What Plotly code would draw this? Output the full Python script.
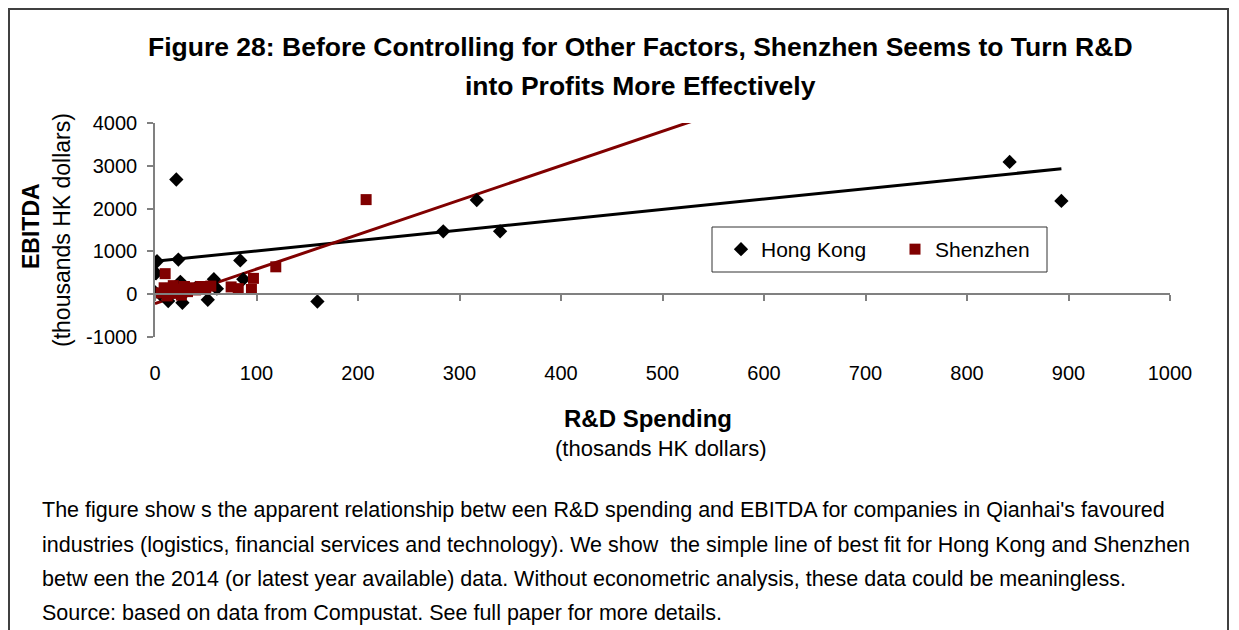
import numpy as np
import plotly.graph_objects as go

# ---------------- data ----------------
hk_x = [0, 1, 2, 5, 10, 13, 21, 23, 25, 27, 30, 40, 52, 58, 61, 84, 87, 160, 284, 317, 340, 842, 893]
hk_y = [50, 490, 770, 0, 100, -160, 2680, 810, 290, -200, 50, 150, -130, 350, 130, 790, 350, -170, 1470, 2200, 1470, 3090, 2180]

sz_x = [10, 6, 9, 12, 15, 18, 20, 23, 26, 29, 32, 36, 40, 45, 50, 55, 75, 82, 95, 97, 119, 208]
sz_y = [480, 30, 150, -40, 100, 200, 20, 120, -20, 180, 60, 150, 100, 180, 140, 190, 170, 130, 110, 370, 640, 2210]

# linear trend lines as drawn in the chart: [intercept, slope]
hk_trend = [770, 2.42]
sz_trend = [-218, 8.05]

x_ticks = [0, 100, 200, 300, 400, 500, 600, 700, 800, 900, 1000]
y_ticks = [-1000, 0, 1000, 2000, 3000, 4000]

title_lines = ["Figure 28: Before Controlling for Other Factors, Shenzhen Seems to Turn R&D",
               "into Profits More Effectively"]
note_lines = [
    "The figure show s the apparent relationship betw een R&D spending and EBITDA for companies in Qianhai's favoured",
    "industries (logistics, financial services and technology). We show  the simple line of best fit for Hong Kong and Shenzhen",
    "betw een the 2014 (or latest year available) data. Without econometric analysis, these data could be meaningless.",
    "Source: based on data from Compustat. See full paper for more details.",
]

# ---------------- layout geometry (screen pixels; page body has an 8px margin) ----------------
OFF = 8
W, H = 1239 - OFF, 630 - OFF
PL, PR, PT, PB = 155, 1170, 123, 337          # plot area on screen
ML, MT = PL - OFF, PT - OFF
MR, MB = W - (PR - OFF), H - (PB - OFF)
PW, PH = PR - PL, PB - PT


def px(x):
    return (x - PL) / PW


def py(y):
    return (PB - y) / PH


FONT = "Liberation Sans, Arial, sans-serif"
RED = "#800000"
AX = "#808080"

fig = go.Figure()

# trend lines
hx = np.array([0, max(hk_x)], dtype=float)
fig.add_trace(go.Scatter(x=hx, y=hk_trend[0] + hk_trend[1] * hx, mode="lines",
                         line=dict(color="black", width=3), showlegend=False, hoverinfo="skip"))
sx = np.array([0, max(hk_x)], dtype=float)
fig.add_trace(go.Scatter(x=sx, y=sz_trend[0] + sz_trend[1] * sx, mode="lines",
                         line=dict(color=RED, width=3), showlegend=False, hoverinfo="skip"))

# scatter
fig.add_trace(go.Scatter(x=hk_x, y=hk_y, mode="markers", name="Hong Kong",
                         marker=dict(symbol="diamond", size=11, color="black")))
fig.add_trace(go.Scatter(x=sz_x, y=sz_y, mode="markers", name="Shenzhen",
                         marker=dict(symbol="square", size=11, color=RED)))

# dummy trace for the overlay axis that sits on y = 0
fig.add_trace(go.Scatter(x=[None], y=[None], xaxis="x2", showlegend=False, hoverinfo="skip"))

ymin, ymax = y_ticks[0], y_ticks[-1]
fig.update_layout(
    width=W, height=H,
    margin=dict(l=ML, r=MR, t=MT, b=MB, pad=0),
    paper_bgcolor="white", plot_bgcolor="white",
    font=dict(family=FONT, size=20, color="black"),
    xaxis=dict(range=[x_ticks[0], x_ticks[-1]], tickvals=x_ticks, ticktext=[str(v) for v in x_ticks],
               showline=False, showgrid=False, zeroline=False, ticks="", ticklabelstandoff=22,
               tickfont=dict(size=20)),
    xaxis2=dict(range=[x_ticks[0], x_ticks[-1]], tickvals=x_ticks, overlaying="x", anchor="free",
                position=(0 - ymin) / (ymax - ymin), showline=True, linecolor=AX, linewidth=1.5,
                ticks="outside", ticklen=6, tickcolor=AX, tickwidth=1.5, showticklabels=False,
                showgrid=False, zeroline=False),
    yaxis=dict(range=[ymin, ymax], tickvals=y_ticks, ticktext=[str(v) for v in y_ticks],
               showline=True, linecolor=AX, linewidth=1.5,
               ticks="outside", ticklen=6, tickcolor=AX, tickwidth=1.5, showgrid=False,
               zeroline=False, ticklabelstandoff=6, tickfont=dict(size=20)),
    legend=dict(orientation="h", x=px(721), y=py(249.5), xanchor="left", yanchor="middle",
                bgcolor="rgba(0,0,0,0)", borderwidth=0, font=dict(size=21), entrywidth=129),
    showlegend=True,
)

shapes = [
    # outer frame
    dict(type="rect", xref="paper", yref="paper", x0=px(OFF + 1), x1=px(1228), y0=py(700), y1=py(OFF + 1),
         line=dict(color="#404040", width=2), fillcolor="rgba(0,0,0,0)", layer="below"),
    # legend box
    dict(type="rect", xref="paper", yref="paper", x0=px(712), x1=px(1047), y0=py(272), y1=py(227),
         line=dict(color="#333333", width=1), fillcolor="white", layer="below"),
]
fig.update_layout(shapes=shapes)

ann = []
for txt, yc in zip(title_lines, [47, 86]):
    ann.append(dict(text="<b>" + txt + "</b>", x=px(640), y=py(yc), xref="paper", yref="paper",
                    xanchor="center", yanchor="middle", showarrow=False, font=dict(size=26.5)))

ann.append(dict(text="<b>R&D Spending</b>", x=px(648), y=py(418), xref="paper", yref="paper",
                xanchor="center", yanchor="middle", showarrow=False, font=dict(size=24)))
ann.append(dict(text="(thosands HK dollars)", x=px(661), y=py(448), xref="paper", yref="paper",
                xanchor="center", yanchor="middle", showarrow=False, font=dict(size=22)))
ann.append(dict(text="<b>EBITDA</b>", x=px(31), y=py(226), xref="paper", yref="paper",
                xanchor="center", yanchor="middle", showarrow=False, textangle=-90, font=dict(size=23)))
ann.append(dict(text="(thousands HK dollars)", x=px(62), y=py(230), xref="paper", yref="paper",
                xanchor="center", yanchor="middle", showarrow=False, textangle=-90, font=dict(size=23)))

for line, yc in zip(note_lines, [510, 545, 579, 613]):
    ann.append(dict(text=line, x=px(40), y=py(yc), xref="paper", yref="paper", xanchor="left",
                    yanchor="middle", showarrow=False, font=dict(size=21.5)))

fig.update_layout(annotations=ann)

fig.write_html("out.html")
